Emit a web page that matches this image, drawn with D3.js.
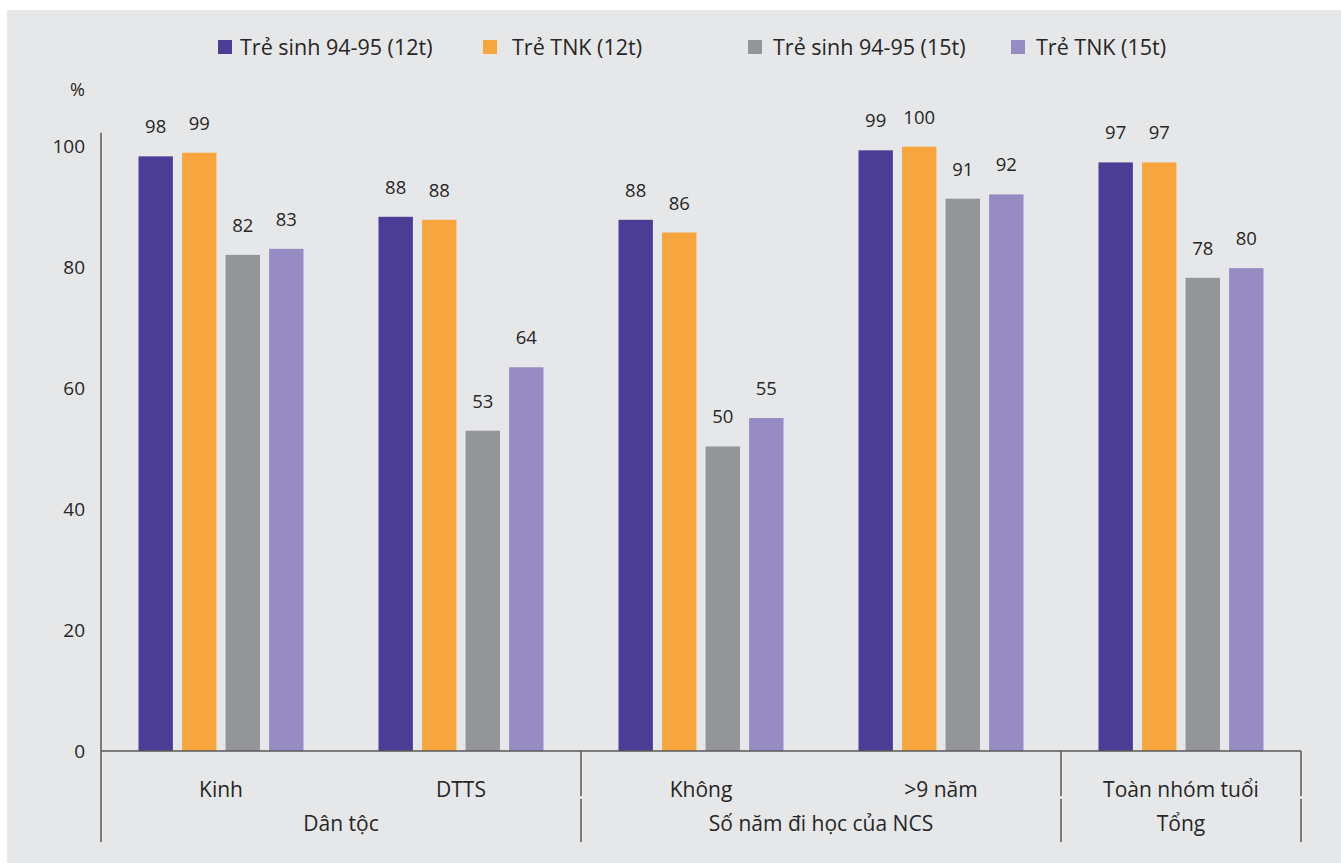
<!DOCTYPE html>
<html>
<head>
<meta charset="utf-8">
<script src="https://cdn.jsdelivr.net/npm/d3@7"></script>
<style>
  body { margin: 0; background: #fff; }
  svg { display: block; font-family: "Open Sans", sans-serif; }
</style>
</head>
<body>
<svg id="chart" width="1341" height="863"></svg>
<script>
// Danh mục, nhóm, chuỗi số liệu
const categories = ["Kinh", "DTTS", "Không", ">9 năm", "Toàn nhóm tuổi"];
const groupNames = ["Dân tộc", "Số năm đi học của NCS", "Tổng"];
const groupOf = [0, 0, 1, 1, 2];
const seriesNames = ["Trẻ sinh 94-95 (12t)", "Trẻ TNK (12t)", "Trẻ sinh 94-95 (15t)", "Trẻ TNK (15t)"];
const sinh12 = [98.4, 88.4, 87.9, 99.4, 97.4];
const tnk12 = [99.0, 87.9, 85.8, 100, 97.4];
const sinh15 = [82.1, 53.0, 50.4, 91.4, 78.3];
const tnk15 = [83.1, 63.5, 55.1, 92.1, 79.9];
const yTicks = [0, 20, 40, 60, 80, 100];

const seriesValues = [sinh12, tnk12, sinh15, tnk15];
const colors = ["#4b3c95", "#f8a53d", "#939598", "#968bc3"];
const TEXT = "#262626";
const LINE = "#58585a";

const svg = d3.select("#chart");
const W = +svg.attr("width");
const H = +svg.attr("height");

// nền xám
svg.append("rect")
  .attr("x", 7).attr("y", 10)
  .attr("width", W - 7).attr("height", H - 10)
  .attr("fill", "#e6e7e8");

const x0 = d3.scaleBand()
  .domain(categories)
  .range([101, 1301])
  .padding(0);

const x1 = d3.scaleBand()
  .domain(seriesNames)
  .range([37.5, 202.5])
  .paddingInner(0.21);

const y = d3.scaleLinear()
  .domain([0, 100])
  .range([751, 146.7]);

const color = d3.scaleOrdinal().domain(seriesNames).range(colors);

const rows = categories.map((c, i) => ({
  cat: c,
  vals: seriesNames.map((s, j) => ({ s: s, v: seriesValues[j][i] }))
}));

// --- Trục Y ---
const yAxis = svg.append("g")
  .attr("transform", "translate(101,0)")
  .call(d3.axisLeft(y).tickValues(yTicks).tickSize(0).tickPadding(16).tickFormat(d3.format("d")));
yAxis.select(".domain").remove();
yAxis.selectAll("text")
  .attr("fill", TEXT)
  .style("font-size", "19px")
  .style("font-family", "Open Sans");

svg.append("line")
  .attr("x1", 101).attr("x2", 101)
  .attr("y1", y(102.3)).attr("y2", 842)
  .attr("stroke", LINE).attr("stroke-width", 1.5);

svg.append("text")
  .attr("x", 85).attr("y", 96)
  .attr("text-anchor", "end")
  .attr("fill", TEXT)
  .style("font-size", "18px")
  .text("%");

// --- Cột ---
const g = svg.selectAll(".cat")
  .data(rows)
  .enter()
  .append("g")
  .attr("class", "cat")
  .attr("transform", d => `translate(${x0(d.cat)},0)`);

g.selectAll("rect")
  .data(d => d.vals)
  .enter()
  .append("rect")
  .attr("x", d => x1(d.s))
  .attr("y", d => y(d.v))
  .attr("width", x1.bandwidth())
  .attr("height", d => y(0) - y(d.v))
  .attr("fill", d => color(d.s));

g.selectAll(".lbl")
  .data(d => d.vals)
  .enter()
  .append("text")
  .attr("class", "lbl")
  .attr("x", d => x1(d.s) + x1.bandwidth() / 2)
  .attr("y", d => y(d.v) - 23)
  .attr("text-anchor", "middle")
  .attr("fill", TEXT)
  .style("font-size", "18.5px")
  .text(d => Math.round(d.v));

// --- Trục X + khung nhóm ---
svg.append("line")
  .attr("x1", 101).attr("x2", x0.range()[1])
  .attr("y1", y(0)).attr("y2", y(0))
  .attr("stroke", LINE).attr("stroke-width", 1.5);

const groupIdx = groupNames.map((name, k) => {
  const cats = categories.filter((c, i) => groupOf[i] === k);
  const start = x0(cats[0]);
  const end = x0(cats[cats.length - 1]) + x0.bandwidth();
  return { name, start, end };
});

const dividers = groupIdx.slice(1).map(d => d.start).concat([x0.range()[1]]);
dividers.forEach(xx => {
  svg.append("line")
    .attr("x1", xx).attr("x2", xx)
    .attr("y1", y(0)).attr("y2", 796)
    .attr("stroke", LINE).attr("stroke-width", 1.5);
  svg.append("line")
    .attr("x1", xx).attr("x2", xx)
    .attr("y1", 799).attr("y2", 842)
    .attr("stroke", LINE).attr("stroke-width", 1.5);
});

svg.selectAll(".catlbl")
  .data(categories)
  .enter()
  .append("text")
  .attr("class", "catlbl")
  .attr("x", d => x0(d) + x0.bandwidth() / 2)
  .attr("y", 797)
  .attr("text-anchor", "middle")
  .attr("fill", TEXT)
  .style("font-size", "21px")
  .text(d => d);

svg.selectAll(".grplbl")
  .data(groupIdx)
  .enter()
  .append("text")
  .attr("class", "grplbl")
  .attr("x", d => (d.start + d.end) / 2)
  .attr("y", 831)
  .attr("text-anchor", "middle")
  .attr("fill", TEXT)
  .style("font-size", "21px")
  .text(d => d.name);

// --- Chú giải ---
const legendX = [218, 483, 748, 1011];
const legendGap = [22, 29, 25, 25];
const lg = svg.selectAll(".leg")
  .data(seriesNames)
  .enter()
  .append("g")
  .attr("class", "leg")
  .attr("transform", (d, i) => `translate(${legendX[i]},40)`);

lg.append("rect")
  .attr("width", 14).attr("height", 14)
  .attr("fill", d => color(d));

lg.append("text")
  .attr("x", (d, i) => legendGap[i])
  .attr("y", 15)
  .attr("fill", TEXT)
  .style("font-size", "21.5px")
  .text(d => d);
</script>
</body>
</html>
